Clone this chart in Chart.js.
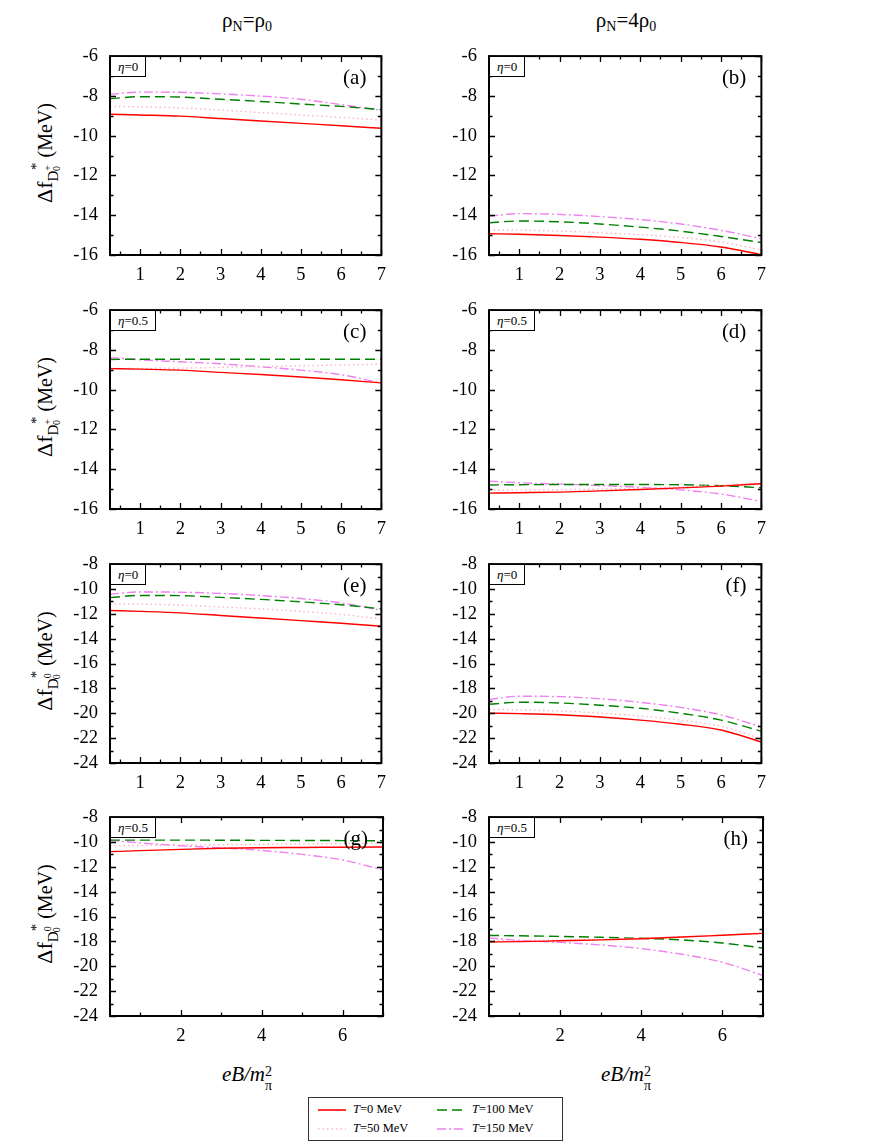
<!DOCTYPE html>
<html>
<head>
<meta charset="utf-8">
<script src="https://cdn.jsdelivr.net/npm/chart.js@4.4.1/dist/chart.umd.min.js"></script>
<style>
body { margin: 0; width: 871px; height: 1145px; background: #fff; position: relative; overflow: hidden; font-family: "Liberation Serif", "DejaVu Serif", serif; color: #000; }
canvas { position: absolute; }
.txt { position: absolute; white-space: nowrap; }
.head { font-size: 21px; transform: translateX(-50%); }
.head sub { font-size: 14px; vertical-align: -4px; line-height: 0; }
.ytitle { font-size: 22px; transform: translate(-50%, -50%) rotate(-90deg); }
.ytitle .d { font-size: 15px; position: relative; top: 6px; }
.ytitle .sp { font-size: 10px; position: relative; top: -7px; }
.ytitle .sb { font-size: 10px; position: relative; top: 2px; margin-left: -6px; }
.ytitle .st { font-size: 15px; position: relative; top: -11px; margin-left: -4px; }
.ytitle .u { font-size: 20px; }
.xtitle { font-size: 21px; font-style: italic; transform: translateX(-50%); }
.xtitle .stk { display: inline-block; vertical-align: -9px; font-size: 14px; line-height: 14px; font-style: normal; }
.xtitle .stk span { display: block; }
.eta { border: 1.5px solid #000; font-size: 13px; padding: 0 7px; height: 21px; line-height: 20px; background: #fff; box-sizing: border-box; }
.tag { font-size: 21px; transform: translateX(-100%); }
#legend { position: absolute; left: 308px; top: 1097px; width: 255px; height: 44px; border: 1.5px solid #333; box-sizing: border-box; }
.item { position: absolute; font-size: 12.5px; display: flex; align-items: center; }
.item svg { margin-right: 7px; }
</style>
</head>
<body>
<div class="txt head" style="left:247px; top:8px">ρ<sub>N</sub>=ρ<sub>0</sub></div>
<div class="txt head" style="left:626px; top:8px">ρ<sub>N</sub>=4ρ<sub>0</sub></div>

<div class="txt ytitle" style="left:45px; top:153px">Δf<span class="d">D<span class="sp">+</span><span class="sb">0</span></span><span class="st">*</span><span class="u"> (MeV)</span></div>
<div class="txt ytitle" style="left:45px; top:407px">Δf<span class="d">D<span class="sp">+</span><span class="sb">0</span></span><span class="st">*</span><span class="u"> (MeV)</span></div>
<div class="txt ytitle" style="left:45px; top:661px">Δf<span class="d">D<span class="sp">0</span><span class="sb">0</span></span><span class="st">*</span><span class="u"> (MeV)</span></div>
<div class="txt ytitle" style="left:45px; top:914px">Δf<span class="d">D<span class="sp">0</span><span class="sb">0</span></span><span class="st">*</span><span class="u"> (MeV)</span></div>

<div class="txt xtitle" style="left:247px; top:1062px">eB/m<span class="stk"><span>2</span><span>π</span></span></div>
<div class="txt xtitle" style="left:626px; top:1062px">eB/m<span class="stk"><span>2</span><span>π</span></span></div>

<div id="legend"></div>

<script>
const eB = [0.25, 1, 2, 3, 4, 5, 6, 7];
const tempLabels = ["0", "50", "100", "150"];

const xTicksTop = [1, 2, 3, 4, 5, 6, 7];
const xMinorTop = [0.5, 1.5, 2.5, 3.5, 4.5, 5.5, 6.5];
const xTicksBottom = [2, 4, 6];
const xMinorBottom = [1, 3, 5, 7];
const yTicksDplus = [-16, -14, -12, -10, -8, -6];
const yMinorDplus = [-15, -13, -11, -9, -7];
const yTicksD0 = [-24, -22, -20, -18, -16, -14, -12, -10, -8];
const yMinorD0 = [-23, -21, -19, -17, -15, -13, -11, -9];

// D+ , rho0, eta=0
const a_T0 = [-8.92, -8.96, -9.02, -9.14, -9.26, -9.38, -9.50, -9.63];
const a_T50 = [-8.53, -8.55, -8.60, -8.72, -8.84, -8.96, -9.08, -9.22];
const a_T100 = [-8.14, -8.04, -8.06, -8.17, -8.28, -8.41, -8.53, -8.69];
const a_T150 = [-7.93, -7.81, -7.82, -7.90, -8.01, -8.17, -8.44, -8.72];
// D+ , 4rho0, eta=0
const b_T0 = [-14.93, -14.96, -15.02, -15.10, -15.21, -15.37, -15.60, -15.98];
const b_T50 = [-14.74, -14.75, -14.80, -14.88, -14.98, -15.12, -15.34, -15.75];
const b_T100 = [-14.38, -14.29, -14.33, -14.44, -14.60, -14.80, -15.07, -15.37];
const b_T150 = [-14.05, -13.92, -13.96, -14.07, -14.22, -14.44, -14.76, -15.18];
// D+ , rho0, eta=0.5
const c_T0 = [-8.94, -8.97, -9.02, -9.13, -9.24, -9.36, -9.50, -9.66];
const c_T50 = [-8.94, -8.93, -8.92, -8.88, -8.84, -8.80, -8.76, -8.72];
const c_T100 = [-8.48, -8.47, -8.47, -8.47, -8.47, -8.47, -8.47, -8.47];
const c_T150 = [-8.39, -8.50, -8.60, -8.70, -8.85, -9.02, -9.25, -9.67];
// D+ , 4rho0, eta=0.5
const d_T0 = [-15.20, -15.18, -15.15, -15.09, -15.02, -14.94, -14.85, -14.73];
const d_T50 = [-15.06, -15.05, -15.03, -15.00, -14.95, -14.89, -14.80, -14.70];
const d_T100 = [-14.79, -14.78, -14.77, -14.77, -14.77, -14.78, -14.83, -14.93];
const d_T150 = [-14.60, -14.68, -14.75, -14.82, -14.91, -15.04, -15.25, -15.62];
// D0 , rho0, eta=0
const e_T0 = [-11.73, -11.80, -11.92, -12.13, -12.34, -12.55, -12.76, -13.00];
const e_T50 = [-11.20, -11.22, -11.30, -11.45, -11.60, -11.80, -12.05, -12.42];
const e_T100 = [-10.70, -10.52, -10.54, -10.68, -10.84, -11.04, -11.27, -11.60];
const e_T150 = [-10.42, -10.24, -10.26, -10.36, -10.53, -10.77, -11.12, -11.72];
// D0 , 4rho0, eta=0
const f_T0 = [-19.99, -20.03, -20.12, -20.30, -20.55, -20.88, -21.35, -22.30];
const f_T50 = [-19.69, -19.72, -19.82, -19.98, -20.22, -20.55, -21.05, -22.05];
const f_T100 = [-19.28, -19.11, -19.17, -19.35, -19.60, -20.00, -20.55, -21.45];
const f_T150 = [-18.88, -18.63, -18.66, -18.83, -19.12, -19.53, -20.13, -21.10];
// D0 , rho0, eta=0.5
const g_T0 = [-10.78, -10.70, -10.60, -10.51, -10.46, -10.44, -10.42, -10.40];
const g_T50 = [-10.30, -10.28, -10.25, -10.22, -10.19, -10.16, -10.13, -10.10];
const g_T100 = [-9.85, -9.85, -9.85, -9.86, -9.87, -9.88, -9.89, -9.90];
const g_T150 = [-9.86, -10.08, -10.30, -10.48, -10.68, -11.00, -11.45, -12.25];
// D0 , 4rho0, eta=0.5
const h_T0 = [-18.05, -18.02, -17.95, -17.88, -17.78, -17.65, -17.50, -17.35];
const h_T50 = [-17.95, -17.93, -17.90, -17.84, -17.75, -17.63, -17.49, -17.33];
const h_T100 = [-17.52, -17.55, -17.60, -17.67, -17.75, -17.88, -18.13, -18.53];
const h_T150 = [-17.72, -17.92, -18.08, -18.28, -18.58, -19.03, -19.68, -20.74];

const lineStyles = [
    { color: "#ff0000", dash: [], width: 1.4 },
    { color: "#ffb3c6", dash: [1.5, 3], width: 1.4 },
    { color: "#008000", dash: [10, 5], width: 1.4 },
    { color: "#ee82ee", dash: [9, 3, 2, 3], width: 1.4 }
];

const colLeft = [110, 489];
const colWidth = [273, 274];
const rowTop = [43, 297, 551, 804];
const plotH = 212;

const panels = [
    { tag: "(a)", eta: "0", row: 0, col: 0, series: [a_T0, a_T50, a_T100, a_T150] },
    { tag: "(b)", eta: "0", row: 0, col: 1, series: [b_T0, b_T50, b_T100, b_T150] },
    { tag: "(c)", eta: "0.5", row: 1, col: 0, series: [c_T0, c_T50, c_T100, c_T150] },
    { tag: "(d)", eta: "0.5", row: 1, col: 1, series: [d_T0, d_T50, d_T100, d_T150] },
    { tag: "(e)", eta: "0", row: 2, col: 0, series: [e_T0, e_T50, e_T100, e_T150] },
    { tag: "(f)", eta: "0", row: 2, col: 1, series: [f_T0, f_T50, f_T100, f_T150] },
    { tag: "(g)", eta: "0.5", row: 3, col: 0, series: [g_T0, g_T50, g_T100, g_T150] },
    { tag: "(h)", eta: "0.5", row: 3, col: 1, series: [h_T0, h_T50, h_T100, h_T150] }
];

const frameTicks = {
    id: "frameTicks",
    afterDatasetsDraw(chart, args, opts) {
        const ctx = chart.ctx;
        const a = chart.chartArea;
        const xs = chart.scales.x;
        const ys = chart.scales.y;
        ctx.save();
        ctx.strokeStyle = "#000";
        ctx.lineWidth = 1.3;
        ctx.beginPath();
        const xMark = (v, len) => {
            const px = Math.round(xs.getPixelForValue(v)) + 0.5;
            ctx.moveTo(px, a.bottom); ctx.lineTo(px, a.bottom - len);
            ctx.moveTo(px, a.top); ctx.lineTo(px, a.top + len);
        };
        const yMark = (v, len) => {
            const py = Math.round(ys.getPixelForValue(v)) + 0.5;
            ctx.moveTo(a.left, py); ctx.lineTo(a.left + len, py);
            ctx.moveTo(a.right, py); ctx.lineTo(a.right - len, py);
        };
        opts.xMajor.forEach(v => xMark(v, 6));
        opts.xMinor.forEach(v => xMark(v, 3.5));
        opts.yMajor.forEach(v => yMark(v, 6));
        opts.yMinor.forEach(v => yMark(v, 3.5));
        ctx.stroke();
        ctx.lineWidth = 2;
        ctx.strokeRect(a.left, a.top, a.right - a.left, a.bottom - a.top);
        ctx.restore();
    }
};

function addText(cls, html, left, top) {
    const div = document.createElement("div");
    div.className = "txt " + cls;
    div.innerHTML = html;
    div.style.left = left + "px";
    div.style.top = top + "px";
    document.body.appendChild(div);
    return div;
}

function makePanel(p) {
    const padL = 60, padT = 10, padR = 12, padB = 34;
    const left = colLeft[p.col], top = rowTop[p.row], w = colWidth[p.col];
    const isDplus = p.row < 2;
    const isBottom = p.row === 3;
    const xTicks = isBottom ? xTicksBottom : xTicksTop;
    const xMinor = isBottom ? xMinorBottom : xMinorTop;
    const yTicks = isDplus ? yTicksDplus : yTicksD0;
    const yMinor = isDplus ? yMinorDplus : yMinorD0;

    const canvas = document.createElement("canvas");
    canvas.width = padL + w + padR;
    canvas.height = padT + plotH + padB;
    canvas.style.left = (left - padL) + "px";
    canvas.style.top = (top - padT) + "px";
    document.body.appendChild(canvas);

    const font = { family: "'Liberation Serif', serif", size: 18.5 };

    const chart = new Chart(canvas.getContext("2d"), {
        type: "line",
        data: {
            datasets: p.series.map((vals, i) => ({
                label: "T=" + tempLabels[i] + " MeV",
                data: vals.map((y, k) => ({ x: eB[k], y: y })),
                borderColor: lineStyles[i].color,
                borderDash: lineStyles[i].dash,
                borderWidth: lineStyles[i].width,
                pointRadius: 0,
                fill: false,
                cubicInterpolationMode: "monotone"
            }))
        },
        options: {
            responsive: false,
            animation: false,
            events: [],
            layout: { padding: { top: padT, right: padR, left: 0, bottom: 0 } },
            plugins: {
                legend: { display: false },
                tooltip: { enabled: false },
                frameTicks: { xMajor: xTicks, xMinor: xMinor, yMajor: yTicks, yMinor: yMinor }
            },
            scales: {
                x: {
                    type: "linear",
                    min: eB[0],
                    max: eB[eB.length - 1],
                    grid: { display: false, drawTicks: false },
                    border: { display: false },
                    afterBuildTicks: s => { s.ticks = xTicks.map(v => ({ value: v })); },
                    afterFit: s => { s.height = padB; },
                    ticks: { font: font, color: "#000", padding: 9, maxRotation: 0, autoSkip: false }
                },
                y: {
                    min: yTicks[0],
                    max: yTicks[yTicks.length - 1],
                    grid: { display: false, drawTicks: false },
                    border: { display: false },
                    afterBuildTicks: s => { s.ticks = yTicks.map(v => ({ value: v })); },
                    afterFit: s => { s.width = padL; },
                    ticks: { font: font, color: "#000", padding: 12, autoSkip: false }
                }
            }
        },
        plugins: [frameTicks]
    });

    const a = chart.chartArea;
    const ox = left - padL, oy = top - padT;
    addText("eta", "<i>η</i>=" + p.eta, ox + a.left, oy + a.top);
    addText("tag", p.tag, ox + a.right - 15, oy + a.top + 9);
}

panels.forEach(makePanel);

const legend = document.getElementById("legend");
const legendPos = [[9, 4], [9, 23], [128, 4], [128, 23]];
lineStyles.forEach((s, i) => {
    const item = document.createElement("div");
    item.className = "item";
    item.style.left = legendPos[i][0] + "px";
    item.style.top = legendPos[i][1] + "px";
    item.innerHTML = '<svg width="28" height="14"><line x1="0" y1="7" x2="28" y2="7" stroke="' + s.color +
        '" stroke-width="1.6" stroke-dasharray="' + (s.dash.length ? s.dash.join(" ") : "none") + '"/></svg>' +
        "<span><i>T</i>=" + tempLabels[i] + " MeV</span>";
    legend.appendChild(item);
});
</script>
</body>
</html>
